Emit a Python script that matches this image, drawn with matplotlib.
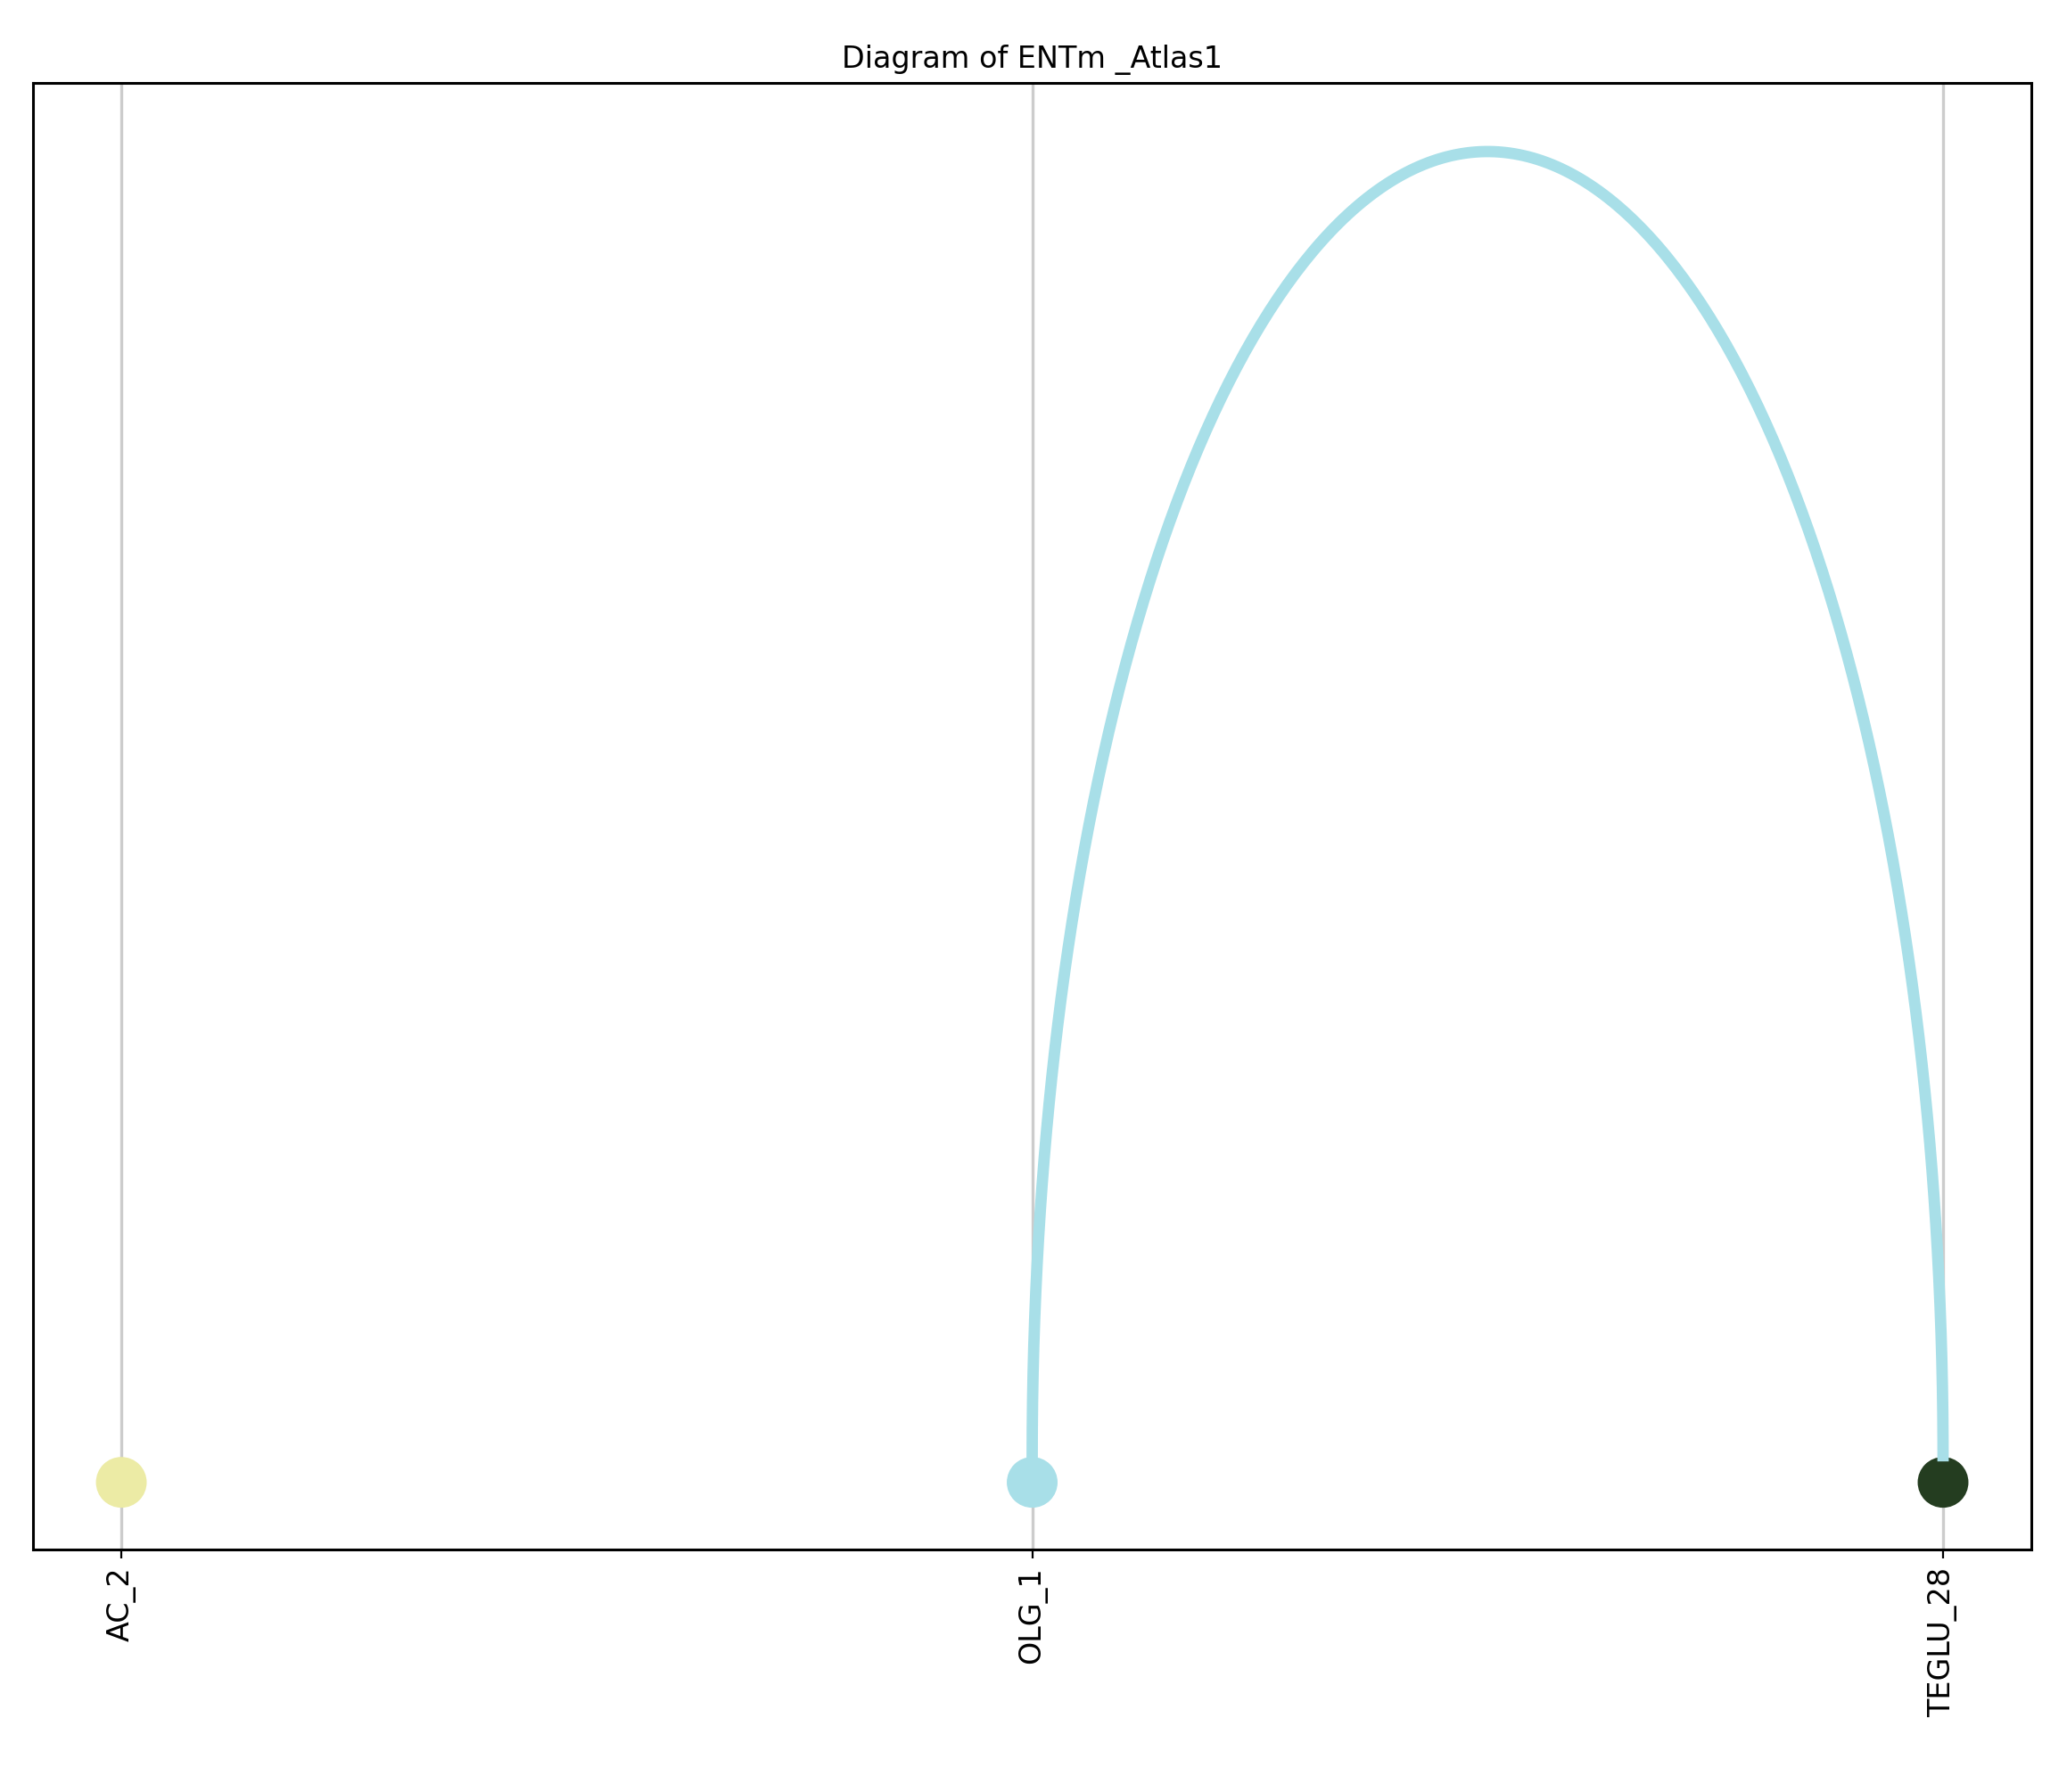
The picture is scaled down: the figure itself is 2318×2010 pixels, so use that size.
import numpy as np
import matplotlib
matplotlib.use("Agg")
import matplotlib.pyplot as plt

labels = ["AC_2", "OLG_1", "TEGLU_28"]
node_colors = ["#ECEBA5", "#A8DFE8", "#243D20"]
edges = [(1, 2)]
edge_colors = ["#A8DFE8"]

fig, ax = plt.subplots(figsize=(11.59, 10.05), dpi=200)
fig.subplots_adjust(left=25/1568, right=1541/1568, top=1-63/1360, bottom=1-1176/1360)
x = np.arange(len(labels))
for xi in x:
    ax.axvline(xi, color="#cccccc", lw=1.2, zorder=0)
ax.scatter(x, np.zeros(len(x)), s=380, c=node_colors, zorder=2)
for (a, b), c in zip(edges, edge_colors):
    t = np.linspace(np.pi, 0, 300)
    cx, r = (a + b) / 2, (b - a) / 2
    ax.plot(cx + r*np.cos(t), 0.02 + 0.98*np.sin(t), color=c, lw=4.6, zorder=3)
for s in ax.spines.values():
    s.set_linewidth(1.1)
ax.set_xlim(-0.097, 2.097)
ax.set_ylim(-0.0505, 1.0515)
ax.set_yticks([])
ax.set_xticks(x)
ax.set_xticklabels(labels, rotation=90, fontsize=12)
ax.set_title("Diagram of ENTm _Atlas1", fontsize=12)
fig.savefig("out.png", dpi=200)
